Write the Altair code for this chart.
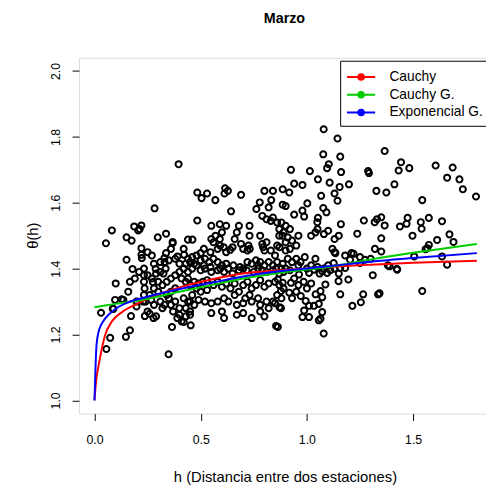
import altair as alt
import pandas as pd

obs_left = [
    (0.054,1.477),(0.082,1.516),(0.151,1.495),(0.187,1.528),(0.221,1.531),(0.206,1.516),(0.213,1.52),
    (0.298,1.495),(0.337,1.506),(0.368,1.481),(0.221,1.462),(0.283,1.583),(0.396,1.717),(0.151,1.427),
    (0.221,1.442),(0.223,1.432),(0.337,1.447),(0.329,1.432),(0.368,1.477),(0.391,1.437),(0.422,1.442),
    (0.179,1.399),(0.233,1.40),(0.233,1.38),(0.233,1.36),(0.236,1.34),(0.233,1.32),(0.229,1.30),
    (0.288,1.399),(0.33,1.42),(0.335,1.40),(0.325,1.385),(0.275,1.359),(0.10,1.355),(0.159,1.33),
    (0.097,1.305),(0.136,1.305),(0.128,1.307),(0.089,1.278),(0.031,1.266),(0.086,1.278),(0.198,1.30),
    (0.198,1.285),(0.267,1.305),(0.35,1.31),(0.36,1.29),(0.37,1.27),(0.38,1.30),(0.40,1.28),(0.39,1.25),
    (0.172,1.256),(0.237,1.256),(0.26,1.263),(0.278,1.25),(0.32,1.28),(0.365,1.223),(0.167,1.213),
    (0.148,1.193),(0.074,1.19),(0.056,1.156),(0.349,1.14),(0.42,1.238),(0.453,1.228),
    (0.167,1.36),(0.19,1.37),(0.21,1.39),(0.25,1.38),(0.27,1.37),(0.29,1.385),(0.31,1.39),(0.30,1.36),
    (0.32,1.35),(0.34,1.36),(0.36,1.37),(0.38,1.38),(0.40,1.39),(0.42,1.40),(0.44,1.39),(0.41,1.37),
    (0.43,1.36),(0.45,1.35),(0.38,1.34),(0.36,1.33),(0.34,1.32),(0.30,1.33),(0.28,1.34),(0.26,1.32),
    (0.24,1.30),(0.28,1.29),(0.31,1.30),(0.33,1.29),(0.42,1.31),(0.44,1.30),(0.46,1.32),(0.43,1.28),
    (0.45,1.27),(0.47,1.29),(0.29,1.255),(0.25,1.27),(0.40,1.26),(0.41,1.24),
    (0.28,1.415),(0.31,1.42),(0.35,1.425),(0.38,1.43),(0.40,1.415),(0.25,1.45),(0.27,1.44),(0.175,1.485),
    (0.44,1.488),(0.461,1.488),(0.36,1.46),(0.42,1.46),
]
obs_mid = [
    (0.484,1.631),(0.53,1.628),(0.504,1.614),(0.569,1.608),(0.615,1.644),(0.628,1.636),(0.612,1.628),
    (0.69,1.624),(0.80,1.636),(0.84,1.636),(0.778,1.601),(0.832,1.608),(0.82,1.586),(0.762,1.581),
    (0.643,1.574),(0.484,1.546),(0.79,1.56),(0.81,1.55),(0.84,1.555),(0.86,1.54),(0.83,1.545),
    (0.886,1.641),(0.917,1.631),
    (0.55,1.53),(0.59,1.535),(0.62,1.53),(0.60,1.51),(0.57,1.50),(0.59,1.49),(0.56,1.48),(0.55,1.49),
    (0.58,1.46),(0.68,1.53),(0.67,1.51),(0.66,1.49),(0.69,1.475),(0.65,1.465),(0.70,1.46),(0.72,1.455),
    (0.725,1.47),(0.73,1.50),(0.73,1.53),(0.78,1.50),(0.79,1.475),(0.81,1.48),(0.80,1.455),(0.83,1.455),
    (0.86,1.47),(0.85,1.44),(0.87,1.50),(0.50,1.447),(0.546,1.45),(0.592,1.47),(0.608,1.465),(0.639,1.457),
    (0.731,1.46),(0.794,1.465),(0.871,1.465),(0.515,1.46),(0.62,1.45),
    (0.44,1.43),(0.46,1.435),(0.48,1.44),(0.50,1.425),(0.52,1.43),(0.54,1.42),(0.56,1.43),(0.58,1.42),
    (0.60,1.41),(0.62,1.415),(0.48,1.41),(0.46,1.40),(0.50,1.395),(0.52,1.40),(0.55,1.39),(0.58,1.395),
    (0.61,1.39),(0.63,1.40),(0.65,1.385),(0.43,1.415),(0.45,1.42),(0.72,1.42),(0.74,1.415),(0.76,1.425),
    (0.78,1.42),(0.80,1.41),(0.82,1.42),(0.84,1.41),(0.86,1.42),(0.88,1.40),(0.79,1.395),(0.81,1.39),
    (0.70,1.40),(0.68,1.395),(0.75,1.39),(0.77,1.40),(0.84,1.395),(0.87,1.385),(0.89,1.39),(0.469,1.415),
    (0.515,1.41),(0.546,1.405),(0.592,1.40),(0.654,1.41),(0.685,1.405),(0.716,1.395),(0.77,1.41),
    (0.855,1.40),(0.886,1.415),
    (0.44,1.37),(0.47,1.36),(0.49,1.355),(0.51,1.36),(0.53,1.365),(0.48,1.34),(0.50,1.33),(0.53,1.335),
    (0.56,1.35),(0.58,1.36),(0.60,1.345),(0.62,1.355),(0.64,1.34),(0.66,1.355),(0.68,1.33),(0.70,1.35),
    (0.72,1.36),(0.74,1.34),(0.76,1.35),(0.78,1.365),(0.80,1.345),(0.82,1.355),(0.85,1.36),(0.87,1.35),
    (0.89,1.34),(0.73,1.32),(0.77,1.31),(0.84,1.30),(0.71,1.31),(0.66,1.32),(0.86,1.32),(0.45,1.30),
    (0.49,1.305),(0.52,1.30),(0.55,1.295),(0.58,1.30),(0.61,1.31),(0.63,1.30),(0.67,1.29),(0.70,1.295),
    (0.74,1.30),(0.78,1.29),(0.81,1.30),(0.85,1.295),(0.88,1.31),
    (0.43,1.255),(0.45,1.26),(0.55,1.265),(0.60,1.27),(0.70,1.265),(0.78,1.27),(0.82,1.28),(0.855,1.226),
    (0.61,1.25),(0.67,1.26),(0.74,1.25),(0.80,1.255),(0.878,1.28),(0.863,1.223),(0.871,1.283),
]
obs_right = [
    (1.079,1.823),(1.144,1.795),(1.077,1.747),(1.157,1.74),(1.103,1.717),(1.095,1.705),(0.925,1.70),
    (1.014,1.696),(1.161,1.693),(1.288,1.696),(1.292,1.69),(0.94,1.658),(0.979,1.654),(1.052,1.671),
    (1.107,1.661),(1.154,1.648),(1.198,1.656),(1.327,1.636),(1.067,1.621),(1.13,1.628),(1.144,1.606),
    (0.886,1.594),(0.90,1.59),(1.002,1.598),(1.077,1.584),(1.092,1.571),(0.979,1.576),(0.987,1.558),
    (0.94,1.564),(1.052,1.554),(1.049,1.541),(1.268,1.546),(1.319,1.541),(1.33,1.55),
    (1.16,1.535),(1.10,1.515),(1.05,1.52),(1.08,1.505),(1.02,1.50),(1.04,1.51),(1.13,1.49),(1.15,1.50),
    (1.237,1.506),(0.88,1.54),(0.90,1.53),(0.92,1.52),(0.89,1.51),(0.91,1.495),(0.90,1.48),(0.93,1.485),
    (0.87,1.52),(0.885,1.50),(0.95,1.47),(0.92,1.46),(0.90,1.455),(1.12,1.46),(1.13,1.45),(1.18,1.44),
    (1.22,1.445),(1.25,1.435),(1.134,1.447),(1.21,1.447),(0.96,1.50),
    (0.97,1.42),(0.96,1.41),(1.00,1.40),(1.02,1.41),(1.05,1.405),(1.08,1.40),(1.11,1.395),(1.06,1.385),
    (1.13,1.40),(1.15,1.385),(1.10,1.41),(1.126,1.417),(1.157,1.402),(1.18,1.402),(1.203,1.427),
    (1.25,1.417),(1.273,1.427),(0.91,1.43),(0.93,1.42),(0.95,1.43),(0.99,1.435),(1.04,1.43),(0.90,1.40),
    (0.92,1.395),
    (0.863,1.367),(0.886,1.357),(0.925,1.357),(0.878,1.332),(0.917,1.327),(0.971,1.317),(0.994,1.302),
    (1.01,1.287),(0.987,1.273),(0.979,1.253),(1.01,1.253),(1.033,1.287),(1.056,1.293),(1.072,1.313),
    (1.041,1.322),(1.064,1.332),(1.087,1.352),(1.095,1.387),(1.072,1.392),(1.033,1.397),(1.01,1.387),
    (0.963,1.382),(1.056,1.243),(1.072,1.268),(1.079,1.203),(1.149,1.362),(1.195,1.367),(1.157,1.322),
    (1.214,1.287),(1.254,1.298),(1.265,1.322),(1.335,1.322),(0.94,1.37),(0.96,1.35),(0.985,1.36),
    (1.00,1.34),(1.02,1.355),(0.95,1.33),(0.93,1.31),(1.064,1.248),
]
obs_far = [
    (1.366,1.757),(1.443,1.723),(1.432,1.698),(1.482,1.705),(1.606,1.713),(1.686,1.707),(1.66,1.676),
    (1.718,1.671),(1.734,1.641),(1.796,1.619),(1.412,1.656),(1.374,1.631),(1.543,1.608),(1.35,1.556),
    (1.366,1.531),(1.438,1.528),(1.474,1.554),(1.469,1.536),(1.536,1.541),(1.574,1.554),(1.54,1.521),
    (1.636,1.544),(1.497,1.50),(1.671,1.504),(1.69,1.481),(1.35,1.492),(1.613,1.487),(1.559,1.459),
    (1.574,1.472),(1.505,1.437),(1.636,1.437),(1.381,1.41),(1.423,1.399),(1.66,1.412),(1.543,1.332),
    (1.342,1.325),(1.389,1.407),(1.425,1.397),(1.567,1.462),(1.30,1.43),(1.32,1.46),(1.31,1.38),
    (1.35,1.452),
]

# ---- fitted curves ----
model_names = ["Cauchy", "Cauchy G.", "Exponencial G."]
model_colors = ["#FF0000", "#00CC00", "#0000FF"]

cauchy_h = [0, 0.005, 0.01, 0.02, 0.035, 0.05, 0.08, 0.13, 0.2, 0.3, 0.4, 0.55, 0.7, 0.9, 1.1, 1.3, 1.5, 1.8]
cauchy_t = [1.0, 1.04, 1.07, 1.108, 1.158, 1.198, 1.238, 1.268, 1.293, 1.322, 1.343, 1.367, 1.385, 1.396, 1.405, 1.412, 1.418, 1.424]

cauchyg_h = [0, 0.1, 0.24, 0.4, 0.55, 0.7, 0.9, 1.1, 1.3, 1.5, 1.8]
cauchyg_t = [1.283, 1.293, 1.307, 1.33, 1.35, 1.37, 1.39, 1.405, 1.428, 1.448, 1.475]

expg_h = [0, 0.003, 0.006, 0.01, 0.02, 0.03, 0.05, 0.1, 0.16, 0.24, 0.4, 0.55, 0.7, 0.9, 1.1, 1.3, 1.5, 1.8]
expg_t = [1.0, 1.06, 1.12, 1.17, 1.21, 1.228, 1.248, 1.278, 1.298, 1.313, 1.338, 1.357, 1.376, 1.394, 1.407, 1.421, 1.432, 1.447]

x_ticks = [0, 0.5, 1.0, 1.5]
y_ticks = [1.0, 1.2, 1.4, 1.6, 1.8, 2.0]

FONT = "Liberation Sans"

pts = pd.DataFrame(obs_left + obs_mid + obs_right + obs_far, columns=["h", "theta"])
curves = pd.concat([
    pd.DataFrame({"h": cauchy_h, "theta": cauchy_t, "modelo": model_names[0]}),
    pd.DataFrame({"h": cauchyg_h, "theta": cauchyg_t, "modelo": model_names[1]}),
    pd.DataFrame({"h": expg_h, "theta": expg_t, "modelo": model_names[2]}),
])

xscale = alt.Scale(domain=[-0.073, 1.843], nice=False, zero=False)
yscale = alt.Scale(domain=[0.96, 2.04], nice=False, zero=False)

x_axis = alt.Axis(values=x_ticks, format=".1f", title="h (Distancia entre dos estaciones)",
                  grid=False, domain=False, tickSize=7, tickColor="black", labelColor="black",
                  labelFont=FONT, labelFontSize=12.5, labelPadding=13, titleFont=FONT, titleFontSize=15,
                  titleFontWeight="normal", titleColor="black", titleX=209, titleY=64,
                  titleBaseline="middle", titleAlign="center")
y_axis = alt.Axis(values=y_ticks, format=".1f", title="θ(h)", grid=False, domain=False,
                  tickSize=7, tickColor="black", labelColor="black", labelFont=FONT, labelFontSize=12.5,
                  labelAngle=270, labelAlign="center", labelBaseline="bottom", labelPadding=10,
                  titleFont=FONT, titleFontSize=15, titleFontWeight="normal", titleColor="black",
                  titleX=-47, titleY=180, titleAngle=270, titleBaseline="middle", titleAlign="center")

points = alt.Chart(pts).mark_point(shape="circle", filled=False, color="black", size=38,
                                   strokeWidth=2, opacity=1).encode(
    x=alt.X("h:Q", scale=xscale, axis=x_axis),
    y=alt.Y("theta:Q", scale=yscale, axis=y_axis),
)

legend_symbol = ("M-1,0H2M0.8,0A0.3,0.3 0 1,0 0.2,0A0.3,0.3 0 1,0 0.8,0"
                 "M0.65,0A0.15,0.15 0 1,0 0.35,0A0.15,0.15 0 1,0 0.65,0"
                 "M0.55,0A0.05,0.05 0 1,0 0.45,0A0.05,0.05 0 1,0 0.55,0")

lines = alt.Chart(curves).mark_line(strokeWidth=2, interpolate="monotone").encode(
    x=alt.X("h:Q", scale=xscale),
    y=alt.Y("theta:Q", scale=yscale),
    color=alt.Color("modelo:N", scale=alt.Scale(domain=model_names, range=model_colors),
                    legend=alt.Legend(title=None, orient="none", legendX=265, legendY=3,
                                      symbolType=legend_symbol, symbolSize=361, symbolStrokeWidth=2,
                                      labelFont=FONT, labelFontSize=14, labelColor="black",
                                      labelOffset=23, labelLimit=300, padding=6, rowPadding=0,
                                      strokeColor="black", fillColor="white")),
)

chart = alt.layer(points, lines).properties(
    width=413, height=361,
    title=alt.TitleParams("Marzo", font=FONT, fontSize=14.5, fontWeight="bold", color="black",
                          anchor="middle", offset=32, dx=2),
    autosize="none",
    padding={"left": 72, "top": 47, "right": 0, "bottom": 72},
).configure_view(stroke="black", strokeWidth=1).configure(background="white")

chart.save("out.html", embed_options={"renderer": "svg", "actions": False})
